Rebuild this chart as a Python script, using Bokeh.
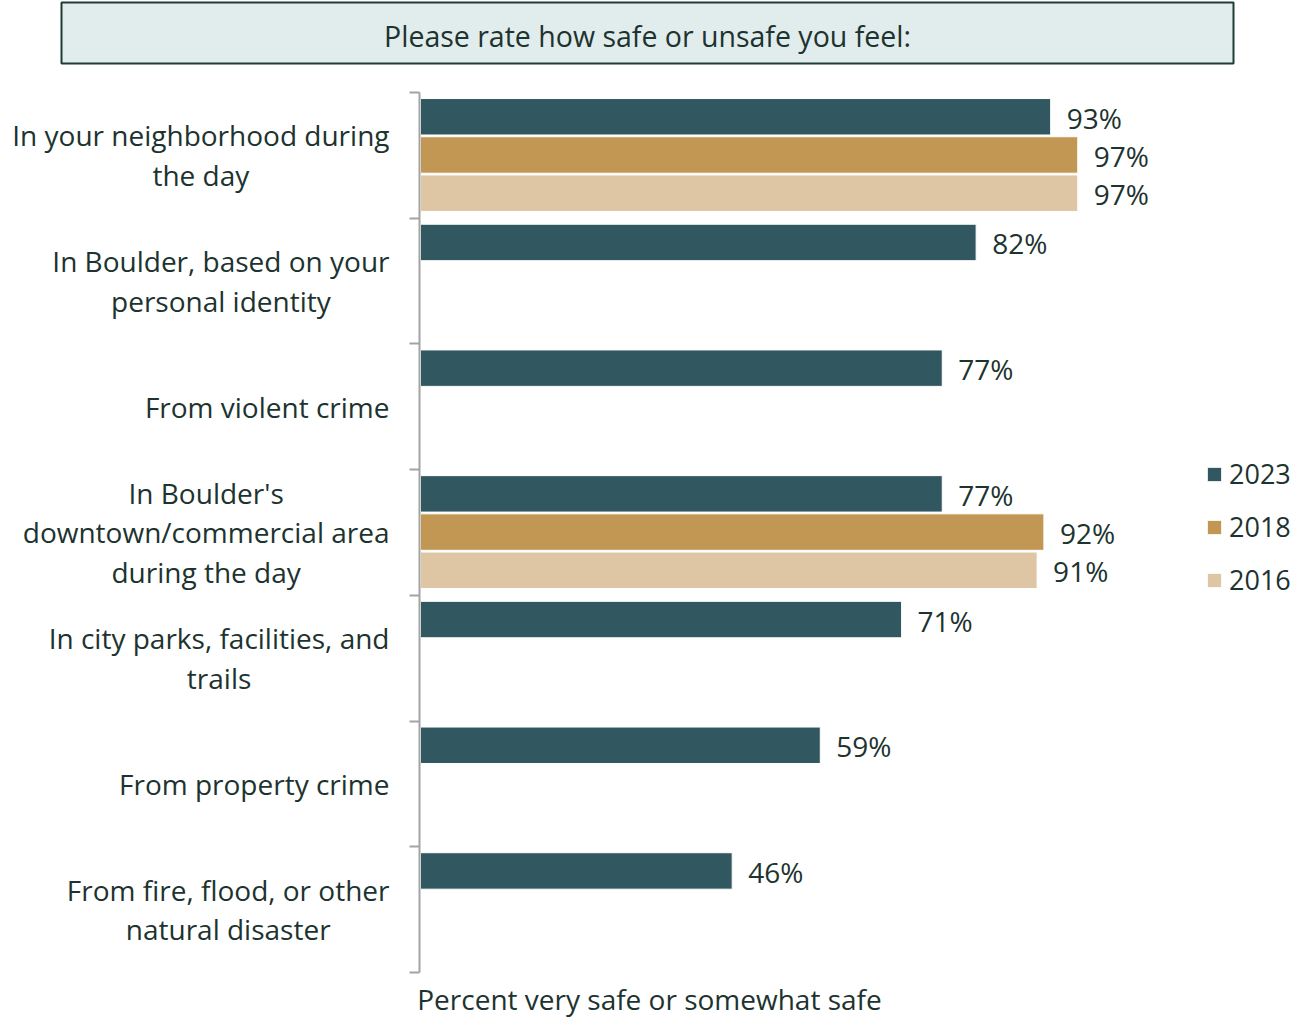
from bokeh.plotting import figure
from bokeh.models import ColumnDataSource, Range1d, FixedTicker, Label
from bokeh.core.properties import value
from bokeh.embed import file_html
from bokeh.resources import INLINE

# ---- data ----
categories = [
    "In your neighborhood during\nthe day",
    "In Boulder, based on your\npersonal identity",
    "From violent crime",
    "In Boulder's\ndowntown/commercial area\nduring the day",
    "In city parks, facilities, and\ntrails",
    "From property crime",
    "From fire, flood, or other\nnatural disaster",
]
years = ["2023", "2018", "2016"]
v2023 = [93, 82, 77, 77, 71, 59, 46]
v2018 = [97, None, None, 92, None, None, None]
v2016 = [97, None, None, 91, None, None, None]
series = [v2023, v2018, v2016]

title_text = "Please rate how safe or unsafe you feel:"
x_title = "Percent very safe or somewhat safe"

# ---- style / layout ----
FONT = "Open Sans"
TEXT = "#1d332f"
colors = ["#315861", "#c19753", "#dec5a3"]
slot_offsets = [0.193, 0.497, 0.801]
bar_h = 0.29
W, H = 1302, 1019
PX = 6.776      # pixels per percent
X0 = 420        # pixel where 0% lies
BAND = 125.7    # pixels per category band
Y0 = 92         # pixel of top of first band


def sx(px):
    return (px - X0) / PX


def sy(py):
    return (py - Y0) / BAND


p = figure(width=W, height=H, x_range=Range1d(sx(0), sx(W)), y_range=Range1d(sy(H), sy(0)),
           x_axis_location=None, toolbar_location=None, output_backend="svg",
           min_border=0, outline_line_color=None)
p.grid.visible = False

# title box
p.quad(left=[sx(61)], right=[sx(1233)], top=[sy(2)], bottom=[sy(63)], fill_color="#e1ecec",
       line_color="#1f3b35", line_width=2)
p.text(x=[sx(647)], y=[sy(35)], text=[title_text], text_align="center", text_baseline="middle",
       text_font=value(FONT), text_font_size="28.5px", text_color=TEXT)

# bars and value labels
for yr, vals, col, off in zip(years, series, colors, slot_offsets):
    ys = [i + off for i, v in enumerate(vals) if v is not None]
    vs = [v for v in vals if v is not None]
    src = ColumnDataSource(dict(y=ys, v=vs, lab=[f"{v}%" for v in vs]))
    p.hbar(y="y", left=0, right="v", height=bar_h, fill_color=col, line_color="white",
           line_width=1, source=src, legend_label=yr)
    p.text(x="v", y="y", text="lab", x_offset=16, y_offset=1, text_baseline="middle",
           text_font=value(FONT), text_font_size="28px", text_color=TEXT, source=src)

# y axis: line with ticks at category boundaries
ax = p.yaxis[0]
ax.fixed_location = sx(419)
ax.bounds = (0, len(categories))
ax.ticker = FixedTicker(ticks=[], minor_ticks=list(range(len(categories) + 1)))
ax.axis_line_color = "#a3a3a3"
ax.axis_line_width = 2
ax.major_tick_line_color = None
ax.minor_tick_line_color = "#a3a3a3"
ax.minor_tick_line_width = 2
ax.minor_tick_out = 10
ax.minor_tick_in = 0
ax.major_label_text_font_size = "0px"

# category labels
for i, c in enumerate(categories):
    p.add_layout(Label(x=0, y=i + 0.5, x_offset=-31, text=c, anchor="center_right",
                       text_align="center", text_baseline="middle", text_font=FONT,
                       text_font_size="28px", text_color=TEXT, text_line_height=1.05))

# axis title
p.add_layout(Label(x=sx(649), y=sy(998), text=x_title, text_align="center",
                   text_baseline="middle", text_font=FONT, text_font_size="28px",
                   text_color=TEXT))

lg = p.legend[0]
lg.location = (1205, 421)
lg.label_text_font = FONT
lg.label_text_font_size = "27px"
lg.label_text_color = TEXT
lg.glyph_width = 18
lg.glyph_height = 18
lg.label_standoff = 6
lg.spacing = 16
lg.padding = 0
lg.margin = 0
lg.border_line_color = None
lg.background_fill_alpha = 0

open("out.html", "w").write(file_html(p, INLINE))
